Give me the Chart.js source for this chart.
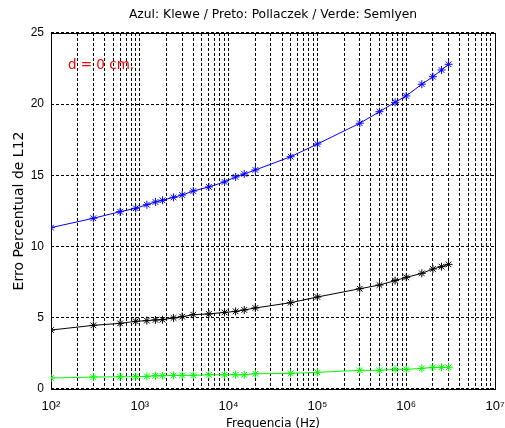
<!DOCTYPE html>
<html>
<head>
<meta charset="utf-8">
<script src="https://cdn.jsdelivr.net/npm/chart.js@4.4.0/dist/chart.umd.min.js"></script>
<style>
  html, body { margin: 0; padding: 0; background: #fff; }
</style>
</head>
<body>
<canvas id="erroChart" width="505" height="428"></canvas>
<script>
// frequencias (Hz)
const freqs = [100, 300, 600, 900, 1200, 1500, 1800, 2400, 3000, 4000, 6000, 9000, 12000, 15000, 20000,
               50000, 100000, 300000, 500000, 750000, 1000000, 1500000, 2000000, 2500000, 3000000];
// erro percentual de L12
const klewe = [11.33, 11.99, 12.45, 12.69, 12.94, 13.13, 13.25, 13.46, 13.62, 13.90, 14.19, 14.54, 14.89, 15.10, 15.38,
               16.31, 17.20, 18.66, 19.47, 20.13, 20.58, 21.40, 21.93, 22.40, 22.80];
const pollaczek = [4.14, 4.47, 4.61, 4.75, 4.80, 4.85, 4.87, 4.99, 5.08, 5.22, 5.27, 5.38, 5.45, 5.55, 5.69,
                   6.06, 6.46, 7.04, 7.30, 7.61, 7.84, 8.12, 8.43, 8.59, 8.75];
const semlyen = [0.77, 0.84, 0.86, 0.86, 0.89, 0.93, 0.93, 0.96, 0.96, 0.96, 1.00, 1.00, 1.00, 1.00, 1.07,
                 1.10, 1.17, 1.31, 1.31, 1.38, 1.38, 1.45, 1.52, 1.52, 1.52];
const decades = [2, 3, 4, 5, 6, 7];
const yTicks = [0, 5, 10, 15, 20, 25];
const supers = { 2: '\u00b2', 3: '\u00b3', 4: '\u2074', 5: '\u2075', 6: '\u2076', 7: '\u2077' };
const note = { text: 'd = 0 cm.', x: 155, y: 22.75 };

const tickFont = { family: 'Arial, "Liberation Sans", sans-serif', size: 12 };
const wide = '"DejaVu Sans", Verdana, sans-serif';

function series(ys) {
  return ys.map((y, i) => ({ x: freqs[i], y: y }));
}

function line(label, ys, color) {
  return {
    label: label,
    data: series(ys),
    borderColor: color,
    backgroundColor: color,
    borderWidth: 1,
    pointStyle: 'star',
    pointRadius: 4,
    pointBorderWidth: 1,
    tension: 0
  };
}

// caixa do grafico + texto vermelho
const boxPlugin = {
  id: 'box',
  beforeDatasetsDraw(chart) {
    const { ctx, chartArea: a } = chart;
    ctx.save();
    ctx.strokeStyle = '#000';
    ctx.lineWidth = 1;
    ctx.strokeRect(Math.round(a.left) + 0.5, Math.round(a.top) + 0.5,
                   Math.round(a.right - a.left), Math.round(a.bottom - a.top));
    ctx.fillStyle = '#ff0000';
    ctx.font = '13.5px ' + wide;
    ctx.textBaseline = 'middle';
    ctx.fillText(note.text, chart.scales.x.getPixelForValue(note.x), chart.scales.y.getPixelForValue(note.y));
    ctx.restore();
  }
};

const ctx = document.getElementById('erroChart').getContext('2d');
const chart = new Chart(ctx, {
  type: 'line',
  data: {
    datasets: [
      line('Klewe', klewe, '#0000ff'),
      line('Pollaczek', pollaczek, '#000000'),
      line('Semlyen', semlyen, '#00ff00')
    ]
  },
  options: {
    responsive: false,
    animation: false,
    devicePixelRatio: 1,
    layout: { padding: { left: 0, right: 10, top: 0, bottom: 0 } },
    plugins: {
      legend: { display: false },
      tooltip: { enabled: false },
      title: {
        display: true,
        fullSize: false,
        text: 'Azul: Klewe / Preto: Pollaczek / Verde: Semlyen',
        color: '#000',
        font: { family: wide, size: 12.3, weight: 'normal', lineHeight: 1.2 },
        padding: { top: 7, bottom: 11.2 }
      }
    },
    scales: {
      x: {
        type: 'logarithmic',
        min: 100,
        max: 10000000,
        afterBuildTicks(scale) {
          const ticks = [];
          decades.forEach(e => {
            for (let m = 1; m <= 9; m++) {
              if (e === 7 && m > 1) break;
              ticks.push({ value: m * Math.pow(10, e) });
            }
          });
          scale.ticks = ticks;
        },
        afterFit(scale) {
          scale.height = 39;
          scale.paddingLeft = 0;
          scale.paddingRight = 0;
        },
        ticks: {
          autoSkip: false,
          maxRotation: 0,
          minRotation: 0,
          padding: 10,
          color: '#000',
          font: { family: tickFont.family, size: 13 },
          callback(value) {
            const e = Math.round(Math.log10(value));
            return Math.pow(10, e) === value ? '10' + supers[e] : '';
          }
        },
        grid: { color: '#000', lineWidth: 1, drawTicks: false },
        border: { display: false, dash: [3, 2] },
        title: {
          display: true,
          text: 'Frequencia (Hz)',
          color: '#000',
          font: { family: wide, size: 12 },
          padding: { top: 0, bottom: -2.7 }
        }
      },
      y: {
        min: 0,
        max: 25,
        afterBuildTicks(scale) {
          scale.ticks = yTicks.map(v => ({ value: v }));
        },
        afterFit(scale) {
          scale.width = 51;
          scale.paddingTop = 0;
          scale.paddingBottom = 0;
        },
        ticks: { padding: 7, color: '#000', font: tickFont },
        grid: { color: '#000', lineWidth: 1, drawTicks: false },
        border: { display: false, dash: [3, 2] },
        title: {
          display: true,
          text: 'Erro Percentual de L12',
          color: '#000',
          font: { family: wide, size: 14 },
          padding: { top: 10.6, bottom: 0 }
        }
      }
    }
  },
  plugins: [boxPlugin]
});
</script>
</body>
</html>
